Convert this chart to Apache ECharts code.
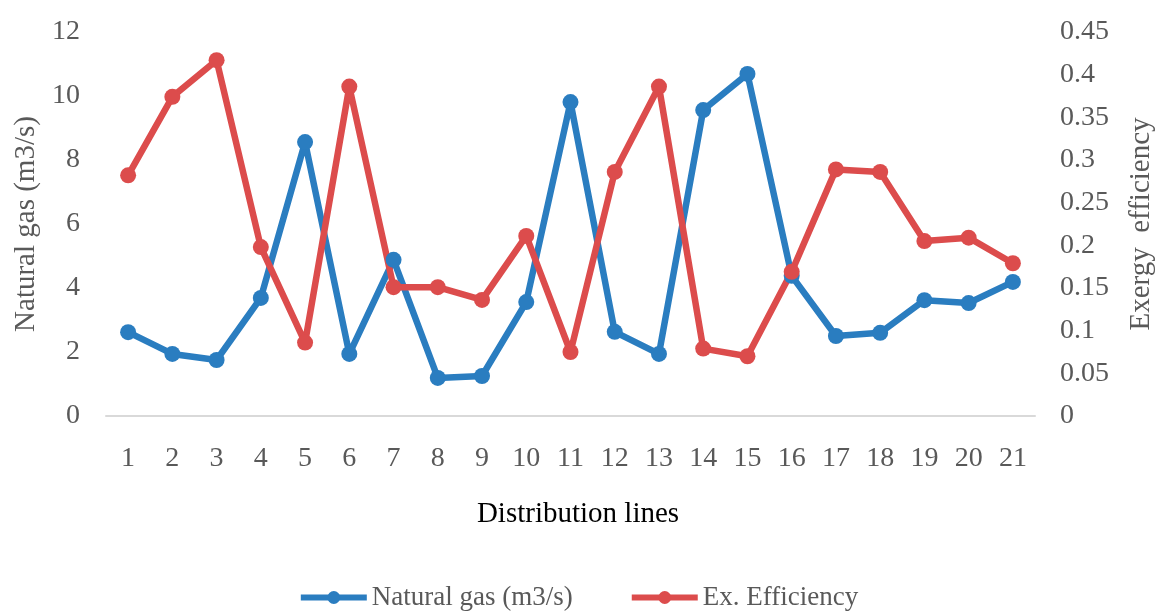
<!DOCTYPE html>
<html>
<head>
<meta charset="utf-8">
<script src="https://cdn.jsdelivr.net/npm/echarts@6/dist/echarts.min.js"></script>
<style>html,body{margin:0;padding:0;background:#fff}#c{width:1156px;height:613px}</style>
</head>
<body>
<div id="c"></div>
<script>
var categories = ['1','2','3','4','5','6','7','8','9','10','11','12','13','14','15','16','17','18','19','20','21'];
var naturalGas = [2.62, 1.94, 1.75, 3.69, 8.56, 1.94, 4.88, 1.19, 1.25, 3.56, 9.81, 2.63, 1.94, 9.56, 10.69, 4.38, 2.5, 2.6, 3.62, 3.53, 4.19];
var exEfficiency = [0.282, 0.374, 0.417, 0.198, 0.086, 0.386, 0.151, 0.151, 0.136, 0.211, 0.075, 0.286, 0.386, 0.079, 0.070, 0.169, 0.289, 0.286, 0.205, 0.209, 0.179];
var leftTicks = {min: 0, max: 12, interval: 2};
var rightTicks = {min: 0, max: 0.45, interval: 0.05};

var FONT = 'Liberation Serif';
var GREY = '#595959';
var BLUE = '#2a7dc0';
var RED = '#dc4c4c';

var chart = echarts.init(document.getElementById('c'));
chart.setOption({
  animation: false,
  backgroundColor: '#fff',
  grid: {left: 106, right: 121, top: 32, bottom: 197, containLabel: false, outerBoundsMode: 'none'},
  graphic: [{
    type: 'text', left: 'center', top: 500,
    style: {text: 'Distribution lines', font: '29px "Liberation Serif"', fill: '#000'}
  }],
  legend: {
    bottom: -3, left: 'center', itemWidth: 66, itemHeight: 16, itemGap: 56,
    textStyle: {fontFamily: FONT, fontSize: 27, color: GREY},
    lineStyle: {width: 6},
    data: ['Natural gas (m3/s)', 'Ex. Efficiency']
  },
  xAxis: {
    type: 'category', data: categories, boundaryGap: true,
    axisLine: {lineStyle: {color: '#d9d9d9', width: 2}},
    axisTick: {show: false},
    axisLabel: {fontFamily: FONT, fontSize: 28, color: GREY, margin: 29, interval: 0}
  },
  yAxis: [{
    type: 'value', min: leftTicks.min, max: leftTicks.max, interval: leftTicks.interval,
    name: 'Natural gas (m3/s)', nameLocation: 'middle', nameRotate: 90, nameGap: 64,
    nameTextStyle: {fontFamily: FONT, fontSize: 29, color: GREY},
    axisLine: {show: false}, axisTick: {show: false}, splitLine: {show: false},
    axisLabel: {fontFamily: FONT, fontSize: 28, color: GREY, margin: 26}
  }, {
    type: 'value', min: rightTicks.min, max: rightTicks.max, interval: rightTicks.interval,
    name: 'Exergy  efficiency', nameLocation: 'middle', nameRotate: 90, nameGap: 92,
    nameTextStyle: {fontFamily: FONT, fontSize: 29, color: GREY},
    axisLine: {show: false}, axisTick: {show: false}, splitLine: {show: false},
    axisLabel: {fontFamily: FONT, fontSize: 28, color: GREY, margin: 25,
      formatter: function (v) { return String(parseFloat(v.toFixed(2))); }}
  }],
  series: [{
    name: 'Natural gas (m3/s)', type: 'line', yAxisIndex: 0, data: naturalGas,
    symbol: 'circle', symbolSize: 16, color: BLUE,
    lineStyle: {width: 6.5, color: BLUE}, itemStyle: {color: BLUE}
  }, {
    name: 'Ex. Efficiency', type: 'line', yAxisIndex: 1, data: exEfficiency,
    symbol: 'circle', symbolSize: 16, color: RED,
    lineStyle: {width: 6.5, color: RED}, itemStyle: {color: RED}
  }]
});
</script>
</body>
</html>
